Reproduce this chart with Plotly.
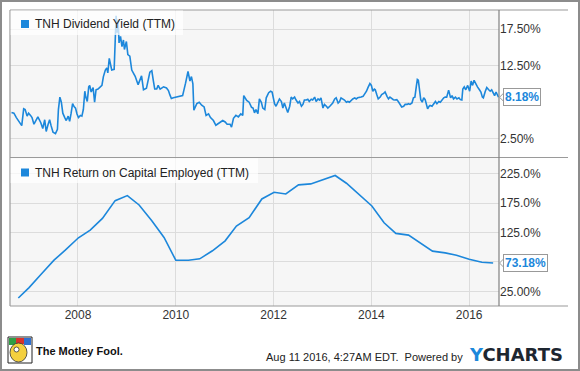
import plotly.graph_objects as go

# ---------------- data ----------------
yield_years = [
    2006.64, 2006.69, 2006.74, 2006.81, 2006.85, 2006.89, 2006.92, 2006.96, 2006.99, 2007.03,
    2007.06, 2007.10, 2007.15, 2007.18, 2007.24, 2007.28, 2007.32, 2007.35, 2007.39, 2007.42,
    2007.45, 2007.49, 2007.54, 2007.58, 2007.60, 2007.63, 2007.66, 2007.69, 2007.73, 2007.76,
    2007.80, 2007.83, 2007.86, 2007.89, 2007.92, 2007.95, 2007.98, 2008.01, 2008.05, 2008.08,
    2008.11, 2008.14, 2008.16, 2008.19, 2008.22, 2008.24, 2008.27, 2008.31, 2008.34, 2008.37,
    2008.41, 2008.45, 2008.49, 2008.52, 2008.56, 2008.59, 2008.61, 2008.64, 2008.67, 2008.69,
    2008.74, 2008.76, 2008.78, 2008.80, 2008.82, 2008.84, 2008.87, 2008.90, 2008.93, 2008.95,
    2008.99, 2009.02, 2009.06, 2009.10,
    2009.13, 2009.17, 2009.23, 2009.27, 2009.30, 2009.34, 2009.40, 2009.47, 2009.51, 2009.54,
    2009.57, 2009.61, 2009.64, 2009.68, 2009.71, 2009.75, 2009.81, 2009.85, 2009.88, 2009.91,
    2009.95, 2010.02, 2010.09, 2010.14, 2010.20, 2010.25, 2010.29, 2010.32, 2010.35, 2010.37,
    2010.43, 2010.48, 2010.53, 2010.58, 2010.62, 2010.67, 2010.71, 2010.77, 2010.82, 2010.87,
    2010.92, 2010.96, 2011.01, 2011.05, 2011.11, 2011.14, 2011.18, 2011.23, 2011.28, 2011.33,
    2011.37, 2011.39, 2011.45, 2011.50, 2011.55,
    2011.58, 2011.61, 2011.64, 2011.68, 2011.71, 2011.75, 2011.78, 2011.82, 2011.85, 2011.90,
    2011.94, 2011.97, 2011.99, 2012.02, 2012.05, 2012.09, 2012.12, 2012.16, 2012.19, 2012.22,
    2012.26, 2012.29, 2012.33, 2012.36, 2012.39, 2012.43, 2012.46, 2012.50, 2012.53, 2012.57,
    2012.60, 2012.63, 2012.67, 2012.70, 2012.73, 2012.77, 2012.80, 2012.84, 2012.87, 2012.91,
    2012.94, 2012.97, 2013.01, 2013.04, 2013.08, 2013.11, 2013.15, 2013.18, 2013.21, 2013.25,
    2013.28, 2013.32, 2013.35, 2013.38, 2013.42, 2013.45, 2013.49, 2013.52, 2013.55, 2013.59,
    2013.62, 2013.66, 2013.69, 2013.72, 2013.76, 2013.79, 2013.83, 2013.86, 2013.90, 2013.93,
    2013.97, 2014.00, 2014.03, 2014.06,
    2014.08, 2014.11, 2014.14, 2014.18, 2014.21, 2014.25, 2014.28, 2014.32, 2014.35, 2014.38,
    2014.42, 2014.45, 2014.48, 2014.52, 2014.55, 2014.59, 2014.62, 2014.66, 2014.69, 2014.73,
    2014.76, 2014.79, 2014.83, 2014.86, 2014.89, 2014.92, 2014.94, 2014.96, 2014.98, 2015.01,
    2015.04, 2015.07, 2015.10, 2015.12, 2015.15, 2015.18, 2015.20, 2015.24, 2015.27, 2015.31,
    2015.34, 2015.38, 2015.41, 2015.45, 2015.48, 2015.51, 2015.54, 2015.58, 2015.60, 2015.62,
    2015.65, 2015.68, 2015.72, 2015.75, 2015.79, 2015.82, 2015.85, 2015.87, 2015.90, 2015.93,
    2015.97, 2016.01, 2016.04, 2016.07, 2016.10, 2016.14, 2016.17, 2016.21, 2016.24, 2016.27,
    2016.29, 2016.33, 2016.36, 2016.40, 2016.43, 2016.46, 2016.50, 2016.52, 2016.55, 2016.58,
    2016.60,
]
yield_values = [
    6.1, 6.0, 5.4, 4.7, 4.3, 6.6, 6.5, 5.6, 6.0, 5.7,
    5.4, 4.5, 5.1, 5.5, 4.7, 3.9, 5.1, 3.5, 4.5, 5.1,
    4.3, 3.4, 3.2, 3.8, 6.5, 8.2, 7.5, 6.0, 5.4, 5.0,
    5.6, 4.9, 6.0, 7.3, 6.9, 6.7, 5.9, 5.4, 5.7, 5.6,
    6.5, 9.0, 8.2, 7.6, 9.6, 9.8, 8.9, 9.5, 7.5, 9.2,
    9.3, 9.6, 9.8, 11.0, 11.9, 12.2, 11.5, 13.5, 12.4, 11.9,
    12.0, 16.7, 19.3, 17.0, 18.8, 15.6, 16.5, 15.1, 16.0, 14.7,
    15.8, 14.0, 13.8, 11.9,
    11.6, 11.05, 9.9, 10.7, 11.1, 9.2, 9.4, 11.6, 11.8, 10.5,
    9.3, 9.3, 9.8, 9.3, 9.45, 9.6, 9.45, 9.1, 8.5, 8.0,
    8.1, 8.2, 8.4, 8.4, 10.1, 11.7, 10.4, 11.0, 10.0, 6.4,
    7.3, 7.5, 7.1, 6.85, 5.7, 5.9, 5.4, 5.0, 4.35, 4.6,
    4.8, 5.0, 4.8, 4.5, 4.5, 4.1, 5.3, 5.7, 5.5, 5.9,
    5.7, 8.4, 7.75, 7.5, 6.8,
    6.7, 6.05, 6.5, 5.95, 7.95, 7.5, 6.7, 6.5, 8.1, 8.8,
    9.0, 8.9, 8.2, 7.3, 6.95, 7.6, 7.95, 7.6, 6.7, 7.4,
    6.5, 6.1, 6.95, 8.2, 7.95, 8.2, 7.8, 7.4, 7.6, 6.95,
    7.2, 7.8, 7.8, 7.9, 7.6, 7.9, 7.8, 8.2, 7.6, 7.95,
    7.8, 8.1, 6.7, 7.2, 6.95, 6.7, 6.95, 7.2, 7.4, 7.95,
    8.1, 7.4, 7.6, 8.1, 7.95, 7.8, 7.5, 7.6, 7.5, 7.8,
    7.95, 8.1, 7.95, 8.1, 8.1, 8.2, 8.3, 8.55, 9.0, 9.5,
    10.05, 9.8, 9.0, 9.3,
    9.2, 8.55, 7.95, 8.2, 8.55, 8.7, 8.9, 8.3, 7.95, 8.2,
    7.95, 7.85, 7.8, 7.85, 7.6, 7.2, 6.85, 6.95, 7.2, 7.2,
    7.3, 7.2, 7.4, 8.1, 8.2, 9.7, 10.6, 10.5, 9.45, 7.85,
    7.5, 8.1, 7.85, 7.2, 6.6, 6.95, 7.05, 6.95, 7.2, 7.6,
    7.3, 7.6, 7.5, 7.95, 8.1, 8.2, 8.2, 9.15, 8.7, 8.1,
    8.4, 7.95, 8.2, 7.95, 8.1, 7.85, 7.8, 9.3, 9.6, 9.2,
    9.8, 9.0, 10.4, 9.8, 10.5, 9.9, 9.6, 9.2, 8.9, 8.2,
    8.1, 9.0, 9.5, 9.2, 9.0, 9.2, 8.7, 8.4, 8.9, 8.55,
    8.18,
]

roce_years = [
    2006.78, 2007.00, 2007.26, 2007.51, 2007.74, 2008.01, 2008.25, 2008.50, 2008.76, 2009.01,
    2009.25, 2009.51, 2009.76, 2010.00, 2010.26, 2010.49, 2010.75, 2011.01, 2011.24, 2011.50,
    2011.76, 2012.01, 2012.25, 2012.51, 2012.76, 2013.00, 2013.26, 2013.49, 2013.75, 2014.01,
    2014.26, 2014.50, 2014.76, 2015.01, 2015.25, 2015.51, 2015.74, 2016.00, 2016.26, 2016.49,
]
roce_values = [
    13.6, 31.3, 55.2, 78.0, 95.1, 116.2, 129.3, 149.2, 179.4, 188.0,
    172.0, 145.2, 116.7, 78.0, 78.0, 80.3, 94.0, 111.0, 136.1, 150.4,
    182.3, 193.7, 190.8, 206.2, 207.9, 214.7, 222.2, 209.0, 189.1, 170.3,
    141.8, 123.6, 120.7, 106.5, 93.4, 90.5, 86.5, 79.7, 74.6, 73.18,
]

x_tick_vals = [2008, 2010, 2012, 2014, 2016]
x_tick_text = ["2008", "2010", "2012", "2014", "2016"]
yield_tick_vals = [2.5, 7.5, 12.5, 17.5]
yield_tick_text = ["2.50%", "", "12.50%", "17.50%"]
roce_tick_vals = [25, 75, 125, 175, 225]
roce_tick_text = ["25.00%", "", "125.0%", "175.0%", "225.0%"]

yield_name = "TNH Dividend Yield (TTM)"
roce_name = "TNH Return on Capital Employed (TTM)"
yield_last_label = "8.18%"
roce_last_label = "73.18%"

# ---------------- style ----------------
W, H = 580, 371
ML, MR, MT, MB = 10, 81, 10, 65
PW = W - ML - MR
PH = H - MT - MB
BLUE = "#1c87db"
GRID = "#dcdcdc"
BORDER = "#9a9a9a"
FONT = "Liberation Sans, Arial, sans-serif"


def px(xp):
    return (xp - ML) / PW


def py(yp):
    return (H - MB - yp) / PH


fig = go.Figure()
fig.add_trace(go.Scatter(x=yield_years, y=yield_values, mode="lines",
                         line=dict(color=BLUE, width=1.6), xaxis="x", yaxis="y",
                         showlegend=False, hoverinfo="skip"))
fig.add_trace(go.Scatter(x=roce_years, y=roce_values, mode="lines",
                         line=dict(color=BLUE, width=1.6), xaxis="x2", yaxis="y2",
                         showlegend=False, hoverinfo="skip"))

xrange_ = [2006.61, 2016.61]
axis_common = dict(showline=False, zeroline=False, gridcolor=GRID, gridwidth=1,
                   ticks="", tickfont=dict(family=FONT, size=12, color="#333333"))

fig.update_layout(
    width=W, height=H,
    margin=dict(l=ML, r=MR, t=MT, b=MB),
    paper_bgcolor="white", plot_bgcolor="#f6f6f6",
    font=dict(family=FONT, size=12, color="#333333"),
    xaxis=dict(domain=[0, 1], anchor="y", range=xrange_, tickvals=x_tick_vals,
               showticklabels=False, **axis_common),
    yaxis=dict(domain=[0.503, 1], anchor="x", side="right", range=[0, 20.1],
               tickvals=yield_tick_vals, ticktext=yield_tick_text, **axis_common),
    xaxis2=dict(domain=[0, 1], anchor="y2", range=xrange_, tickvals=x_tick_vals,
                ticktext=x_tick_text, **axis_common),
    yaxis2=dict(domain=[0, 0.5], anchor="x2", side="right", range=[0, 252],
                tickvals=roce_tick_vals, ticktext=roce_tick_text, **axis_common),
)

shapes = []
# panel borders
for yp in (MT, 157.5, H - MB):
    shapes.append(dict(type="line", xref="paper", yref="paper", x0=px(ML), x1=px(568),
                       y0=py(yp), y1=py(yp), line=dict(color=BORDER, width=1.2), layer="above"))
shapes.append(dict(type="line", xref="paper", yref="paper", x0=0, x1=0, y0=0, y1=1,
                   line=dict(color=BORDER, width=1.2), layer="above"))
shapes.append(dict(type="line", xref="paper", yref="paper", x0=1, x1=1, y0=0, y1=1,
                   line=dict(color="#808080", width=1.2), layer="above"))
# outer frame
shapes.append(dict(type="rect", xref="paper", yref="paper", x0=px(1), x1=px(W - 1),
                   y0=py(1), y1=py(H - 1), line=dict(color="#8c8c8c", width=2), layer="above"))

# legend boxes
def legend_box(x0, y0, x1, y1, sq_y):
    shapes.append(dict(type="rect", xref="paper", yref="paper", x0=px(x0), x1=px(x1),
                       y0=py(y0), y1=py(y1), fillcolor="rgba(255,255,255,0.72)",
                       line=dict(width=0), layer="above"))
    shapes.append(dict(type="rect", xref="paper", yref="paper", x0=px(21), x1=px(29),
                       y0=py(sq_y - 4), y1=py(sq_y + 4), fillcolor=BLUE,
                       line=dict(width=0), layer="above"))


legend_box(ML + 0.6, MT + 0.6, 183, 35, 24)
legend_box(ML + 0.6, 158.2, 258, 183, 172.5)

# last-value pointers
def pointer(yref, yval, half):
    shapes.append(dict(type="path", xref="paper", yref=yref,
                       path=f"M {px(504.5)},{yval - half} L {px(499.5)},{yval} L {px(504.5)},{yval + half}",
                       line=dict(color="#999999", width=1), fillcolor="white", layer="above"))


pointer("y", yield_values[-1], 5 / 7.33)
pointer("y2", roce_values[-1], 5 / 0.585)

# Motley Fool logo approximation
shapes += [
    dict(type="rect", xref="paper", yref="paper", x0=px(8), x1=px(32), y0=py(337), y1=py(363),
         fillcolor="white", line=dict(color="#222", width=1), layer="above"),
    dict(type="rect", xref="paper", yref="paper", x0=px(9), x1=px(16), y0=py(338), y1=py(345),
         fillcolor="#2f9e44", line=dict(width=0), layer="above"),
    dict(type="rect", xref="paper", yref="paper", x0=px(16), x1=px(24), y0=py(338), y1=py(344),
         fillcolor="#d9322b", line=dict(width=0), layer="above"),
    dict(type="rect", xref="paper", yref="paper", x0=px(24), x1=px(31), y0=py(338), y1=py(345),
         fillcolor="#2f6fd0", line=dict(width=0), layer="above"),
    dict(type="circle", xref="paper", yref="paper", x0=px(10), x1=px(27), y0=py(343), y1=py(362),
         fillcolor="#f4d03f", line=dict(color="#333", width=0.8), layer="above"),
    dict(type="circle", xref="paper", yref="paper", x0=px(14), x1=px(19), y0=py(347), y1=py(352),
         fillcolor="white", line=dict(color="#333", width=0.8), layer="above"),
]

annotations = [
    dict(xref="paper", yref="paper", x=px(33), y=py(24), xanchor="left", yanchor="middle",
         text=yield_name, showarrow=False, font=dict(family=FONT, size=12, color="#222222")),
    dict(xref="paper", yref="paper", x=px(33), y=py(172.5), xanchor="left", yanchor="middle",
         text=roce_name, showarrow=False, font=dict(family=FONT, size=12, color="#222222")),
    dict(xref="paper", yref="y", x=px(503), y=yield_values[-1], xanchor="left", yanchor="middle",
         text=f"<b>{yield_last_label}</b>", showarrow=False, bgcolor="white",
         bordercolor="#999999", borderwidth=1, borderpad=1,
         font=dict(family=FONT, size=12, color=BLUE)),
    dict(xref="paper", yref="y2", x=px(503), y=roce_values[-1], xanchor="left", yanchor="middle",
         text=f"<b>{roce_last_label}</b>", showarrow=False, bgcolor="white",
         bordercolor="#999999", borderwidth=1, borderpad=1,
         font=dict(family=FONT, size=12, color=BLUE)),
    dict(xref="paper", yref="paper", x=px(34), y=py(351), xanchor="left", yanchor="middle",
         text="<b>The Motley Fool.</b>", showarrow=False,
         font=dict(family=FONT, size=11, color="#111111")),
    dict(xref="paper", yref="paper", x=px(465), y=py(357), xanchor="right", yanchor="middle",
         text="Aug 11 2016, 4:27AM EDT.  Powered by", showarrow=False,
         font=dict(family=FONT, size=11, color="#222222")),
    dict(xref="paper", yref="paper", x=px(467), y=py(354), xanchor="left", yanchor="middle",
         text=f"<b><span style='color:{BLUE}'>Y</span>CHARTS</b>", showarrow=False,
         font=dict(family="DejaVu Sans, sans-serif", size=18, color="#1d2630")),
]

fig.update_layout(shapes=shapes, annotations=annotations)
fig.write_html("out.html", config={"displayModeBar": False},
               post_script="document.body.style.margin='0';document.body.style.padding='0';")
